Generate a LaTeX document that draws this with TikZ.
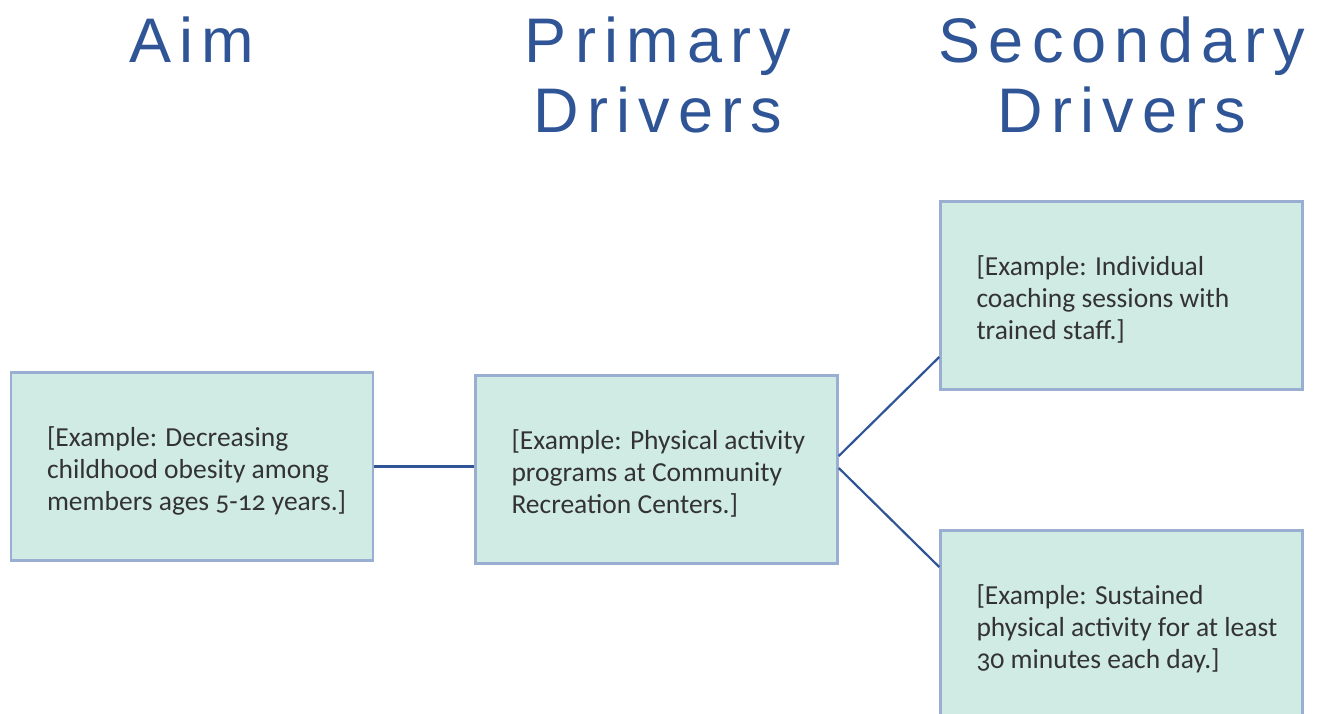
\documentclass[tikz,border=0pt]{standalone}
\usepackage{fontspec}
\setmainfont{Carlito}[Numbers=OldStyle]
\newfontfamily\headfont{Liberation Sans}[LetterSpace=13]
\usetikzlibrary{arrows.meta}

\definecolor{boxfill}{HTML}{D0EBE4}
\definecolor{boxedge}{HTML}{9AAED2}
\definecolor{drvblue}{HTML}{2F5597}
\definecolor{drvtext}{HTML}{333333}

% keep the text lines as given, left aligned in a fixed width, a bit low
\newcommand{\boxlines}[1]{\makebox[290pt][l]{\raisebox{-6pt}[\height][\depth]{\begin{tabular}{@{}l@{}}#1\end{tabular}}}}

\begin{document}
\begin{tikzpicture}[x=1pt,y=-1pt,
  head/.style={font=\headfont\fontsize{63}{70}\selectfont, text=drvblue, align=center, anchor=base, inner sep=0pt},
  drv/.style={draw=boxedge, line width=2.5pt, fill=boxfill, text=drvtext,
    font=\fontsize{27.5}{32}\selectfont, inner xsep=36pt, inner ysep=0pt,
    minimum width=362pt, minimum height=188pt},
  link/.style={draw=drvblue, line width=2.2pt}]
\useasboundingbox (0,0) rectangle (1317,713);

% column headings (base = last line)
\node[head] (aimhd) at (192,62) {Aim};
\node[head] (primhd) at (658,132) {Primary\\Drivers};
\node[head] (sechd) at (1122,132) {Secondary\\Drivers};

% boxes
\node[drv] (aim) at (192,466.5) {\boxlines{[Example: Decreasing\\childhood obesity among\\members ages 5-12 years.]}};
\node[drv] (prim) at (656.5,469.5) {\boxlines{[Example: Physical activity\\programs at Community\\Recreation Centers.]}};
\node[drv] (secA) at (1121.5,295.5) {\boxlines{[Example: Individual\\coaching sessions with\\trained staff.]}};
\node[drv] (secB) at (1121.5,624.5) {\boxlines{[Example: Sustained\\physical activity for at least\\30 minutes each day.]}};

% connectors
\draw[link] (aim.east) -- (aim.east -| prim.west);
\draw[link] ([yshift=13.5pt]prim.east) -- ([yshift=-61.5pt]secA.west);
\draw[link] ([yshift=1.5pt]prim.east) -- ([yshift=57.5pt]secB.west);
\end{tikzpicture}
\end{document}
